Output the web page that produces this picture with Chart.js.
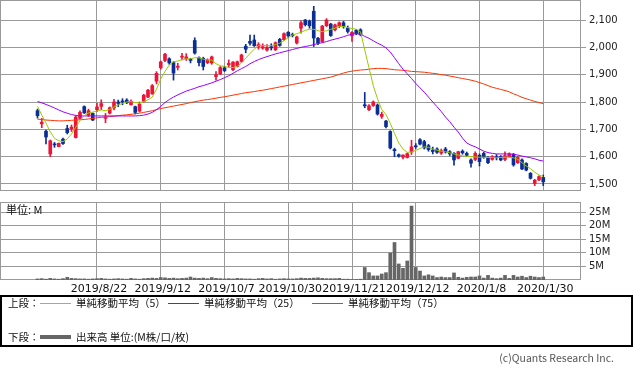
<!DOCTYPE html>
<html>
<head>
<meta charset="utf-8">
<script src="https://cdn.jsdelivr.net/npm/chart.js@4"></script>
<style>
  body { margin: 0; background: #fff; width: 633px; height: 371px; position: relative; overflow: hidden;
         font-family: "Noto Sans CJK JP", sans-serif; color: #111; }
  canvas { position: absolute; left: 0; }
  #price { top: 0; }
  #volume { top: 190px; }
  .t { position: absolute; font-size: 10.5px; line-height: 14px; white-space: nowrap; }
  .ln { position: absolute; height: 1px; width: 31px; }
  #legend { position: absolute; left: 0; top: 295px; width: 633px; height: 52px; box-sizing: border-box; border: 2px solid #000; }
</style>
</head>
<body>
<canvas id="price" width="633" height="191"></canvas>
<canvas id="volume" width="633" height="105"></canvas>

<div class="t" style="left:6px;top:202px;font-size:11px;">単位: M</div>

<div id="legend"></div>
<div class="t" style="left:8px;top:296px;">上段：</div>
<div class="ln" style="left:40px;top:303px;background:#99cc00;"></div>
<div class="t" style="left:76px;top:296px;">単純移動平均（5）</div>
<div class="ln" style="left:168px;top:303px;background:#9900ff;"></div>
<div class="t" style="left:204px;top:296px;">単純移動平均（25）</div>
<div class="ln" style="left:312px;top:303px;background:#ff3300;"></div>
<div class="t" style="left:348px;top:296px;">単純移動平均（75）</div>
<div class="t" style="left:8px;top:330px;">下段：</div>
<div class="ln" style="left:40px;top:335px;height:4px;background:#666;"></div>
<div class="t" style="left:76px;top:330px;">出来高 単位:(M株/口/枚)</div>

<div class="t" style="right:19px;top:351px;color:#555;">(c)Quants Research Inc.</div>

<script>
// daily candles (2019/8 - 2020/1/30)
const opens = [
  1768,1720,1693,1610,1646,1637,1664,1703,1702,1670,1740,1783,1752,1758,1772,1784,1740,1759,1778,1800,
  1803,1807,1790,1783,1767,1802,1818,1830,1876,1925,1952,1958,1944,1927,1964,1958,1956,2025,1962,1960,
  1944,1943,1893,1903,1925,1936,1918,1930,1948,2004,2022,2027,2003,1997,1990,2002,1991,2029,2028,2055,
  2046,2016,2070,2100,2096,2132,2033,2021,2079,2085,2064,2077,2090,2070,2042,2062,2064,1790,1772,1787,
  1789,1747,1730,1692,1626,1607,1598,1597,1617,1640,1662,1655,1640,1624,1628,1613,1628,1618,1612,1594,
  1620,1612,1588,1590,1605,1612,1596,1590,1600,1600,1590,1600,1608,1578,1588,1575,1539,1502,1515,1524
];
const highs = [
  1774,1740,1697,1661,1652,1650,1668,1715,1716,1750,1768,1786,1774,1760,1795,1808,1758,1782,1810,1807,
  1812,1812,1808,1785,1800,1828,1846,1864,1911,1950,1978,1962,1948,1942,1978,1977,1960,2035,1965,1964,
  1958,1968,1911,1930,1931,1954,1948,1950,1975,2011,2045,2045,2017,2013,2010,2013,2020,2033,2053,2058,
  2052,2041,2097,2102,2100,2150,2037,2080,2105,2088,2085,2093,2095,2078,2058,2066,2068,1835,1791,1804,
  1793,1763,1733,1695,1631,1610,1607,1614,1660,1648,1666,1660,1645,1635,1632,1628,1634,1622,1615,1620,
  1625,1617,1592,1618,1610,1616,1600,1604,1608,1604,1618,1614,1612,1602,1592,1578,1542,1517,1530,1533
];
const lows = [
  1741,1706,1647,1600,1634,1636,1645,1683,1692,1668,1737,1758,1747,1732,1765,1772,1724,1756,1771,1783,
  1790,1794,1788,1756,1763,1800,1816,1828,1866,1920,1948,1938,1880,1917,1954,1952,1943,1975,1932,1917,
  1940,1938,1880,1900,1911,1927,1915,1928,1945,1980,2008,2003,1993,1993,1986,1990,1988,2004,2025,2035,
  2038,2012,2052,2078,2070,2003,2010,2018,2076,2040,2060,2072,2070,2052,2022,2046,2042,1779,1768,1784,
  1752,1740,1705,1628,1600,1598,1592,1595,1608,1630,1643,1628,1620,1610,1612,1608,1613,1604,1569,1592,
  1609,1600,1562,1585,1566,1594,1574,1587,1588,1585,1585,1598,1565,1575,1552,1548,1518,1494,1512,1494
];
const closes = [
  1750,1726,1672,1658,1643,1649,1648,1688,1708,1745,1762,1760,1768,1734,1782,1794,1745,1779,1800,1795,
  1800,1797,1803,1762,1792,1825,1843,1860,1905,1947,1975,1943,1906,1931,1967,1965,1952,1979,1944,1930,
  1954,1965,1900,1926,1915,1941,1946,1947,1972,1993,2015,2006,2010,2002,2000,1998,2017,2007,2050,2042,
  2043,2038,2090,2083,2079,2034,2015,2078,2100,2043,2082,2090,2076,2058,2055,2050,2046,1786,1786,1800,
  1756,1755,1710,1632,1622,1602,1606,1611,1636,1636,1646,1632,1626,1619,1616,1622,1617,1610,1588,1618,
  1614,1605,1576,1612,1582,1598,1578,1600,1596,1588,1604,1610,1570,1597,1555,1551,1521,1514,1527,1508
];

// moving averages
const ma5 = [
  1785,1752,1723,1691,1667,1658,1655,1665,1683,1708,1732,1750,1760,1763,1767,1771,1768,1773,1782,1789,
  1795,1800,1802,1798,1796,1802,1808,1818,1847,1884,1912,1935,1947,1950,1955,1958,1958,1962,1962,1957,
  1954,1953,1940,1933,1930,1927,1926,1930,1943,1960,1978,1993,2006,2007,2006,2006,2010,2015,2024,2036,
  2045,2050,2055,2062,2066,2066,2061,2057,2061,2066,2070,2077,2076,2072,2069,2066,2057,1990,1925,1860,
  1812,1772,1754,1722,1685,1650,1628,1616,1617,1623,1630,1636,1634,1628,1624,1620,1618,1614,1610,1606,
  1603,1601,1600,1599,1598,1598,1597,1597,1596,1597,1598,1598,1596,1590,1578,1566,1556,1543,1533,1527
];
const ma25 = [
  1802,1797,1791,1785,1778,1771,1764,1759,1754,1751,1749,1749,1749,1749,1749,1749,1749,1749,1749,1749,
  1749,1749,1749,1749,1750,1752,1756,1762,1772,1784,1798,1809,1818,1826,1833,1840,1845,1850,1856,1860,
  1865,1870,1876,1882,1889,1896,1905,1914,1922,1930,1940,1948,1955,1961,1966,1971,1976,1980,1984,1988,
  1992,1996,2000,2003,2006,2010,2014,2017,2021,2026,2030,2034,2039,2044,2048,2050,2048,2040,2033,2024,
  2015,2008,1998,1983,1962,1940,1920,1903,1886,1868,1852,1836,1818,1800,1783,1765,1745,1728,1708,1690,
  1668,1650,1642,1636,1628,1620,1615,1612,1610,1610,1610,1610,1609,1606,1602,1599,1596,1592,1587,1584
];
const ma75 = [
  1737,1736,1734,1733,1732,1731,1731,1732,1733,1734,1735,1736,1738,1740,1742,1744,1745,1747,1748,1750,
  1752,1753,1755,1757,1759,1762,1765,1768,1772,1776,1779,1782,1785,1788,1791,1794,1798,1801,1804,1807,
  1809,1811,1814,1817,1819,1822,1825,1828,1831,1834,1836,1838,1841,1843,1846,1849,1852,1855,1858,1861,
  1864,1867,1870,1873,1876,1879,1882,1885,1888,1891,1896,1901,1906,1910,1913,1915,1917,1918,1920,1922,
  1923,1923,1922,1920,1918,1917,1916,1914,1912,1911,1910,1909,1907,1905,1903,1900,1898,1895,1892,1889,
  1886,1883,1880,1876,1871,1866,1860,1854,1850,1846,1842,1837,1830,1824,1817,1812,1807,1802,1798,1794
];

// volume, millions
const volumes = [
  0.4,0.5,0.3,0.6,0.4,0.3,0.5,1.0,0.6,0.5,0.4,0.4,0.3,0.4,0.5,
  0.6,0.4,0.3,0.4,0.5,0.4,0.3,0.6,0.4,0.3,0.5,0.6,0.7,0.6,0.9,
  0.8,0.6,0.7,0.5,0.6,0.7,1.1,0.7,0.6,0.7,0.5,0.9,0.6,0.5,0.4,
  0.5,0.4,0.6,0.5,0.4,0.4,0.3,0.5,0.6,0.4,0.5,0.3,0.4,0.5,0.4,
  0.4,0.5,0.7,0.6,0.6,0.7,0.8,0.6,0.5,0.5,0.5,0.6,0.3,0.3,0.2,0.2,0.3,
  4.6,2.7,1.5,1.5,2.2,2.7,9.9,13.8,5.9,4.3,7.0,27.2,4.6,3.3,1.5,1.9,1.5,0.9,1.1,0.9,
  0.9,2.6,1.0,0.7,1.0,1.1,1.1,1.5,0.7,1.7,0.7,0.5,0.7,1.7,0.6,1.7,1.1,1.4,0.9,1.4,
  1.1,0.9,1.1
];

// axis ticks
const dateTickIdx = [14, 29, 44, 59, 74, 89, 104, 119];
const dateTickLabels = ['2019/8/22', '2019/9/12', '2019/10/7', '2019/10/30', '2019/11/21', '2019/12/12', '2020/1/8', '2020/1/30'];
const priceTicks = [1500, 1600, 1700, 1800, 1900, 2000, 2100];
const volumeTicks = [5, 10, 15, 20, 25];

const gridColor = '#9a9a9a';
const upColor = '#ee1438';
const downColor = '#0a2e94';
Chart.defaults.font.family = 'DejaVu Sans';

// draws the box around the plot
const framePlugin = {
  id: 'frame',
  beforeDatasetsDraw(chart) {
    const a = chart.chartArea;
    const ctx = chart.ctx;
    ctx.save();
    ctx.strokeStyle = gridColor;
    ctx.lineWidth = 1;
    ctx.strokeRect(a.left + 0.5, a.top + 0.5, a.right - a.left - 1, a.bottom - a.top - 1);
    ctx.restore();
  }
};

const xMin = -37.5 / 4.25;
const xMax = xMin + 581 / 4.25;
const idx = closes.map((_, i) => i);
const candleColors = idx.map(i => closes[i] >= opens[i] ? upColor : downColor);

function dateScale(showLabels) {
  return {
    type: 'linear',
    min: xMin,
    max: xMax,
    offset: false,
    afterBuildTicks: s => { s.ticks = dateTickIdx.map(v => ({ value: v })); },
    afterFit: s => {
      s.height = showLabels ? 15 : 0;
      s.paddingLeft = 0;
      s.paddingRight = 0;
    },
    grid: { color: gridColor, drawTicks: false, offset: false },
    border: { display: false },
    ticks: {
      display: showLabels,
      autoSkip: false,
      maxRotation: 0,
      minRotation: 0,
      padding: 3,
      labelOffset: 2,
      color: '#111',
      font: { size: 11 },
      callback: (v, i) => dateTickLabels[i]
    }
  };
}

new Chart(document.getElementById('price'), {
  type: 'bar',
  data: {
    datasets: [
      { type: 'line', data: idx.map(i => ({ x: i, y: ma5[i] })), borderColor: '#99cc00', borderWidth: 1, pointRadius: 0, order: 0 },
      { type: 'line', data: idx.map(i => ({ x: i, y: ma25[i] })), borderColor: '#9900ff', borderWidth: 1, pointRadius: 0, order: 0 },
      { type: 'line', data: idx.map(i => ({ x: i, y: ma75[i] })), borderColor: '#ff3300', borderWidth: 1, pointRadius: 0, order: 0 },
      { data: idx.map(i => ({ x: i, y: [lows[i], highs[i]] })), backgroundColor: candleColors, barThickness: 1, grouped: false, order: 2 },
      { data: idx.map(i => ({ x: i, y: [opens[i], closes[i]] })), backgroundColor: candleColors, barThickness: 3, minBarLength: 1, grouped: false, order: 1 }
    ]
  },
  options: {
    responsive: false,
    animation: false,
    events: [],
    layout: { padding: 0 },
    plugins: { legend: { display: false }, tooltip: { enabled: false } },
    scales: {
      x: dateScale(false),
      y: {
        position: 'right',
        min: 1500 - 7 / 0.273333,
        max: 2100 + 20 / 0.273333,
        afterBuildTicks: s => { s.ticks = priceTicks.map(v => ({ value: v })); },
        afterFit: s => { s.width = 52; s.paddingTop = 0; s.paddingBottom = 0; },
        grid: { color: gridColor, tickLength: 5 },
        border: { display: false },
        ticks: { padding: 3, color: '#222', font: { size: 10 }, callback: v => v.toLocaleString('en-US') }
      }
    }
  },
  plugins: [framePlugin]
});

new Chart(document.getElementById('volume'), {
  type: 'bar',
  data: {
    datasets: [
      { data: idx.map(i => ({ x: i, y: volumes[i] })), backgroundColor: '#666666', barThickness: 3, grouped: false }
    ]
  },
  options: {
    responsive: false,
    animation: false,
    events: [],
    layout: { padding: { top: 12 } },
    plugins: { legend: { display: false }, tooltip: { enabled: false } },
    scales: {
      x: dateScale(true),
      y: {
        position: 'right',
        min: 0,
        max: 28.7,
        afterBuildTicks: s => { s.ticks = volumeTicks.map(v => ({ value: v })); },
        afterFit: s => { s.width = 52; s.paddingTop = 0; s.paddingBottom = 0; },
        grid: { color: gridColor, tickLength: 5 },
        border: { display: false },
        ticks: { padding: 3, color: '#222', font: { size: 10 }, callback: v => v + 'M' }
      }
    }
  },
  plugins: [framePlugin]
});
</script>
</body>
</html>
